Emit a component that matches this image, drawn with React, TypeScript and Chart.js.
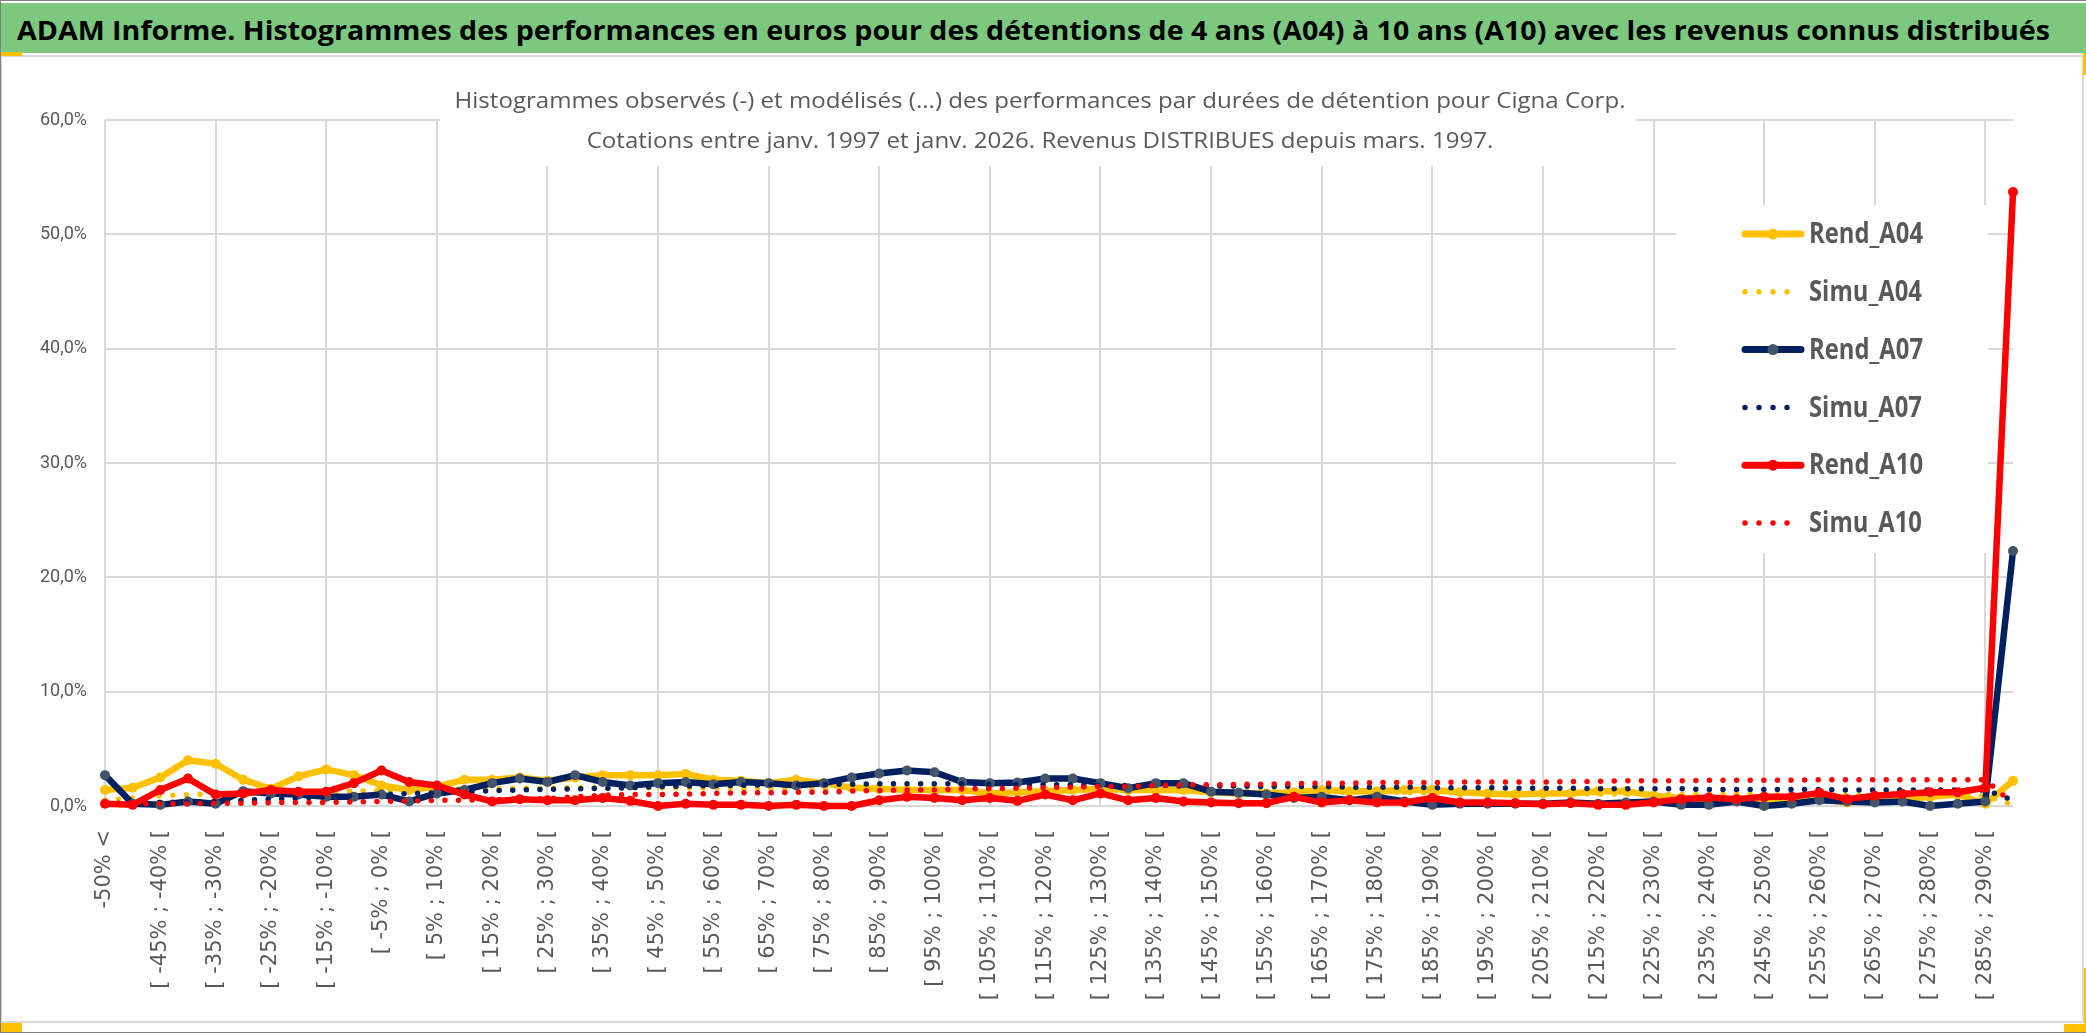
import { useEffect, useLayoutEffect, useRef } from "react";
import { Chart, registerables } from "chart.js";

Chart.register(...registerables);

// bins of the performance histogram
const categories = [
  "-50% <", "[ -50% ; -45% [", "[ -45% ; -40% [", "[ -40% ; -35% [", "[ -35% ; -30% [",
  "[ -30% ; -25% [", "[ -25% ; -20% [", "[ -20% ; -15% [", "[ -15% ; -10% [", "[ -10% ; -5% [",
  "[ -5% ; 0% [", "[ 0% ; 5% [", "[ 5% ; 10% [", "[ 10% ; 15% [", "[ 15% ; 20% [",
  "[ 20% ; 25% [", "[ 25% ; 30% [", "[ 30% ; 35% [", "[ 35% ; 40% [", "[ 40% ; 45% [",
  "[ 45% ; 50% [", "[ 50% ; 55% [", "[ 55% ; 60% [", "[ 60% ; 65% [", "[ 65% ; 70% [",
  "[ 70% ; 75% [", "[ 75% ; 80% [", "[ 80% ; 85% [", "[ 85% ; 90% [", "[ 90% ; 95% [",
  "[ 95% ; 100% [", "[ 100% ; 105% [", "[ 105% ; 110% [", "[ 110% ; 115% [", "[ 115% ; 120% [",
  "[ 120% ; 125% [", "[ 125% ; 130% [", "[ 130% ; 135% [", "[ 135% ; 140% [", "[ 140% ; 145% [",
  "[ 145% ; 150% [", "[ 150% ; 155% [", "[ 155% ; 160% [", "[ 160% ; 165% [", "[ 165% ; 170% [",
  "[ 170% ; 175% [", "[ 175% ; 180% [", "[ 180% ; 185% [", "[ 185% ; 190% [", "[ 190% ; 195% [",
  "[ 195% ; 200% [", "[ 200% ; 205% [", "[ 205% ; 210% [", "[ 210% ; 215% [", "[ 215% ; 220% [",
  "[ 220% ; 225% [", "[ 225% ; 230% [", "[ 230% ; 235% [", "[ 235% ; 240% [", "[ 240% ; 245% [",
  "[ 245% ; 250% [", "[ 250% ; 255% [", "[ 255% ; 260% [", "[ 260% ; 265% [", "[ 265% ; 270% [",
  "[ 270% ; 275% [", "[ 275% ; 280% [", "[ 280% ; 285% [", "[ 285% ; 290% [", "> 290%",
];

// values in %
const rendA04 = [
  1.4, 1.6, 2.5, 4.0, 3.7, 2.3, 1.5, 2.6, 3.2, 2.7,
  1.8, 1.4, 1.7, 2.3, 2.3, 2.5, 2.2, 2.5, 2.7, 2.7,
  2.7, 2.8, 2.3, 2.2, 2.0, 2.3, 2.0, 1.6, 1.5, 1.4,
  1.4, 1.4, 1.1, 1.2, 1.3, 1.4, 1.5, 1.4, 1.4, 1.4,
  1.2, 1.1, 1.1, 1.2, 1.4, 1.3, 1.3, 1.4, 1.4, 1.2,
  1.1, 1.0, 1.1, 1.1, 1.3, 1.3, 0.9, 0.7, 0.6, 0.6,
  0.6, 0.5, 0.6, 0.3, 0.5, 0.6, 0.8, 1.0, 0.2, 2.2,
];
const simuA04 = [
  0.5, 0.7, 0.9, 1.0, 1.05, 1.1, 1.15, 1.2, 1.25, 1.3,
  1.35, 1.4, 1.45, 1.5, 1.5, 1.55, 1.55, 1.6, 1.6, 1.6,
  1.6, 1.6, 1.6, 1.6, 1.55, 1.55, 1.55, 1.5, 1.5, 1.5,
  1.45, 1.45, 1.45, 1.4, 1.4, 1.4, 1.35, 1.35, 1.35, 1.3,
  1.3, 1.3, 1.25, 1.25, 1.25, 1.2, 1.2, 1.2, 1.15, 1.15,
  1.15, 1.1, 1.1, 1.1, 1.05, 1.05, 1.05, 1.0, 1.0, 1.0,
  1.0, 0.95, 0.95, 0.95, 0.95, 0.9, 0.9, 0.9, 0.9, 0.1,
];
const rendA07 = [
  2.7, 0.2, 0.1, 0.4, 0.2, 1.3, 1.1, 1.0, 0.8, 0.8,
  1.0, 0.4, 1.1, 1.4, 2.0, 2.4, 2.1, 2.7, 2.1, 1.8,
  2.0, 2.1, 1.9, 2.1, 2.0, 1.8, 2.0, 2.5, 2.85, 3.1,
  2.95, 2.1, 2.0, 2.05, 2.4, 2.4, 2.0, 1.55, 2.0, 2.0,
  1.25, 1.15, 1.0, 0.7, 0.8, 0.5, 0.8, 0.4, 0.1, 0.2,
  0.2, 0.2, 0.2, 0.3, 0.2, 0.3, 0.4, 0.1, 0.1, 0.4,
  0.0, 0.2, 0.5, 0.4, 0.3, 0.4, 0.0, 0.2, 0.4, 22.3,
];
const simuA07 = [
  0.2, 0.3, 0.3, 0.35, 0.4, 0.5, 0.6, 0.7, 0.8, 0.9,
  1.0, 1.1, 1.15, 1.2, 1.35, 1.4, 1.45, 1.5, 1.55, 1.6,
  1.7, 1.75, 1.8, 1.8, 1.85, 1.85, 1.9, 1.9, 1.95, 1.95,
  1.95, 1.95, 1.9, 1.9, 1.85, 1.85, 1.8, 1.8, 1.8, 1.75,
  1.75, 1.75, 1.7, 1.7, 1.7, 1.65, 1.65, 1.65, 1.6, 1.6,
  1.6, 1.55, 1.55, 1.55, 1.5, 1.5, 1.5, 1.5, 1.45, 1.45,
  1.45, 1.45, 1.45, 1.4, 1.4, 1.4, 1.4, 1.4, 1.4, 0.5,
];
const rendA10 = [
  0.2, 0.1, 1.4, 2.4, 1.0, 1.1, 1.4, 1.25, 1.25, 2.0,
  3.1, 2.1, 1.8, 1.0, 0.4, 0.6, 0.5, 0.5, 0.7, 0.45,
  0.0, 0.2, 0.1, 0.1, 0.0, 0.1, 0.0, 0.0, 0.5, 0.8,
  0.7, 0.5, 0.7, 0.45, 1.0, 0.5, 1.1, 0.5, 0.7, 0.4,
  0.3, 0.25, 0.25, 0.8, 0.3, 0.5, 0.3, 0.3, 0.7, 0.3,
  0.3, 0.25, 0.15, 0.25, 0.1, 0.1, 0.3, 0.6, 0.75, 0.6,
  0.8, 0.8, 1.15, 0.6, 0.9, 1.05, 1.2, 1.2, 1.6, 53.7,
];
const simuA10 = [
  0.1, 0.2, 0.2, 0.2, 0.25, 0.25, 0.3, 0.3, 0.3, 0.35,
  0.4, 0.45, 0.5, 0.5, 0.55, 0.6, 0.65, 0.8, 0.95, 1.0,
  1.0, 1.05, 1.1, 1.15, 1.15, 1.2, 1.2, 1.3, 1.35, 1.4,
  1.4, 1.5, 1.5, 1.55, 1.6, 1.65, 1.7, 1.7, 1.8, 1.85,
  1.85, 1.9, 1.9, 1.95, 2.0, 2.0, 2.05, 2.05, 2.05, 2.1,
  2.1, 2.1, 2.1, 2.15, 2.15, 2.2, 2.2, 2.2, 2.25, 2.25,
  2.25, 2.25, 2.3, 2.3, 2.3, 2.3, 2.3, 2.3, 2.3, 0.2,
];

const yTicks = [0, 10, 20, 30, 40, 50, 60];

const headerText =
  "ADAM Informe. Histogrammes des performances en euros pour des détentions de 4 ans (A04) à 10 ans (A10) avec les revenus connus distribués";
const title1 =
  "Histogrammes observés (-) et modélisés (...) des performances par durées de détention pour Cigna Corp.";
const title2 = "Cotations entre janv. 1997 et janv. 2026. Revenus DISTRIBUES depuis mars. 1997.";

const GOLD = "#FFC000";
const NAVY = "#002060";
const SLATE = "#44546A";
const RED = "#FF0000";
const GRAY = "#595959";
const GRID = "#D9D9D9";

const legendItems = [
  { label: "Rend_A04", color: GOLD, marker: GOLD, dotted: false },
  { label: "Simu_A04", color: GOLD, marker: GOLD, dotted: true },
  { label: "Rend_A07", color: NAVY, marker: SLATE, dotted: false },
  { label: "Simu_A07", color: NAVY, marker: NAVY, dotted: true },
  { label: "Rend_A10", color: RED, marker: RED, dotted: false },
  { label: "Simu_A10", color: RED, marker: RED, dotted: true },
];

const overlayPlugin = {
  id: "overlay",
  beforeDatasetsDraw(chart: Chart) {
    const ctx = chart.ctx;
    ctx.save();
    // white boxes behind title and legend (they hide the grid, like in Excel)
    ctx.fillStyle = "#fff";
    ctx.fillRect(438, 8, 1196, 101);
    ctx.fillRect(1674, 148, 312, 348);

    // chart title, two lines
    ctx.fillStyle = GRAY;
    ctx.font = "21px 'Open Sans'";
    ctx.textBaseline = "middle";
    ctx.textAlign = "center";
    const sx = 1171 / ctx.measureText(title1).width;
    [title1, title2].forEach((t, i) => {
      ctx.save();
      ctx.translate(1038, 45 + i * 40);
      ctx.scale(sx, 1);
      ctx.fillText(t, 0, 0);
      ctx.restore();
    });

    // legend
    ctx.font = "bold 29px 'Open Sans'";
    ctx.textAlign = "left";
    const lx = 114 / ctx.measureText("Rend_A04").width;
    legendItems.forEach((it, i) => {
      const y = 177 + i * 57.8;
      ctx.save();
      ctx.strokeStyle = it.color;
      ctx.lineCap = "round";
      ctx.beginPath();
      if (it.dotted) {
        ctx.lineWidth = 5.5;
        ctx.setLineDash([0, 14]);
        ctx.moveTo(1743, y);
        ctx.lineTo(1799, y);
      } else {
        ctx.lineWidth = 7;
        ctx.moveTo(1743, y);
        ctx.lineTo(1799, y);
      }
      ctx.stroke();
      if (!it.dotted) {
        ctx.fillStyle = it.marker;
        ctx.beginPath();
        ctx.arc(1771, y, 5.5, 0, Math.PI * 2);
        ctx.fill();
      }
      ctx.restore();
      ctx.save();
      ctx.fillStyle = GRAY;
      ctx.translate(1807, y + 1);
      ctx.scale(lx, 1);
      ctx.fillText(it.label, 0, 0);
      ctx.restore();
    });
    ctx.restore();
  },
};

export default function App() {
  const canvasRef = useRef<HTMLCanvasElement>(null);
  const headRef = useRef<HTMLSpanElement>(null);

  useLayoutEffect(() => {
    document.body.style.margin = "0";
    const el = headRef.current;
    if (el) {
      el.style.transform = "none";
      const w = el.getBoundingClientRect().width;
      el.style.transform = `scaleX(${2033 / w})`;
    }
  }, []);

  useEffect(() => {
    if (!canvasRef.current) return;

    const solid = (label: string, data: number[], color: string, marker: string, order: number) => ({
      label,
      data,
      order,
      borderColor: color,
      backgroundColor: marker,
      borderWidth: 6.5,
      borderJoinStyle: "round" as const,
      borderCapStyle: "round" as const,
      pointRadius: 5,
      pointBorderWidth: 0,
      pointBackgroundColor: marker,
      pointBorderColor: marker,
      tension: 0,
      clip: false as const,
    });
    const dotted = (label: string, data: number[], color: string, order: number) => ({
      label,
      data,
      order,
      borderColor: color,
      backgroundColor: color,
      borderWidth: 5.5,
      borderDash: [0, 13.6],
      borderCapStyle: "round" as const,
      pointRadius: 0,
      tension: 0,
      clip: false as const,
    });

    const chart = new Chart(canvasRef.current, {
      type: "line",
      data: {
        labels: categories,
        datasets: [
          solid("Rend_A04", rendA04, GOLD, GOLD, 6),
          dotted("Simu_A04", simuA04, GOLD, 5),
          solid("Rend_A07", rendA07, NAVY, SLATE, 4),
          dotted("Simu_A07", simuA07, NAVY, 3),
          solid("Rend_A10", rendA10, RED, RED, 2),
          dotted("Simu_A10", simuA10, RED, 1),
        ],
      },
      options: {
        animation: false,
        responsive: true,
        maintainAspectRatio: false,
        layout: { padding: { top: 63, right: 68, left: 0, bottom: 0 } },
        plugins: {
          legend: { display: false },
          title: { display: false },
          tooltip: { enabled: false },
        },
        scales: {
          x: {
            type: "category",
            offset: false,
            border: { display: false },
            grid: {
              color: (c: any) => (c.index % 4 === 0 ? GRID : "rgba(0,0,0,0)"),
              lineWidth: 2,
              drawTicks: false,
            },
            ticks: {
              autoSkip: false,
              minRotation: 90,
              maxRotation: 90,
              padding: 24,
              color: GRAY,
              font: { family: "'DejaVu Sans', sans-serif", size: 21 },
              callback: (_v: any, i: number) => (i % 2 === 0 ? categories[i] : ""),
            },
            afterFit: (s: any) => {
              s.height = 215;
            },
          },
          y: {
            min: yTicks[0],
            max: yTicks[yTicks.length - 1],
            border: { display: false },
            grid: { color: GRID, lineWidth: 2, drawTicks: false },
            ticks: {
              stepSize: 10,
              padding: 18,
              color: GRAY,
              font: { family: "Roboto, sans-serif", size: 18 },
              callback: (v: any) => Number(v).toFixed(1).replace(".", ",") + "%",
            },
            afterFit: (s: any) => {
              s.width = 103;
            },
          },
        },
      },
      plugins: [overlayPlugin],
    });

    return () => chart.destroy();
  }, []);

  return (
    <div
      style={{
        position: "relative",
        width: 2086,
        height: 1033,
        background: "#fff",
        overflow: "hidden",
        boxSizing: "border-box",
        borderTop: "1px solid #7f7f7f",
        borderBottom: "1px solid #7f7f7f",
        borderLeft: "1px solid #7f7f7f",
      }}
    >
      <div
        style={{
          position: "absolute",
          left: 0,
          top: 2,
          width: 2086,
          height: 50,
          background: "#7DC87F",
          overflow: "hidden",
        }}
      >
        <span
          ref={headRef}
          style={{
            position: "absolute",
            left: 16,
            top: 2,
            whiteSpace: "nowrap",
            font: "bold 27px 'Open Sans', sans-serif",
            lineHeight: "50px",
            color: "#000",
            transformOrigin: "left center",
          }}
        >
          {headerText}
        </span>
      </div>
      <div
        style={{
          position: "absolute",
          left: -1,
          top: 54,
          width: 2084,
          height: 968,
          boxSizing: "border-box",
          border: `2px solid ${GRID}`,
        }}
      />
      <div style={{ position: "absolute", left: 1, top: 56, width: 2079, height: 964 }}>
        <canvas ref={canvasRef} />
      </div>
      <div style={{ position: "absolute", left: 0, top: 51, width: 21, height: 4, background: GOLD }} />
      <div style={{ position: "absolute", left: 0, top: 1022, width: 21, height: 9, background: GOLD }} />
      <div style={{ position: "absolute", left: 2082, top: 52, width: 4, height: 22, background: GOLD }} />
      <div style={{ position: "absolute", left: 2083, top: 967, width: 3, height: 64, background: GOLD }} />
      <div style={{ position: "absolute", left: 2063, top: 1023, width: 23, height: 8, background: GOLD }} />
    </div>
  );
}
